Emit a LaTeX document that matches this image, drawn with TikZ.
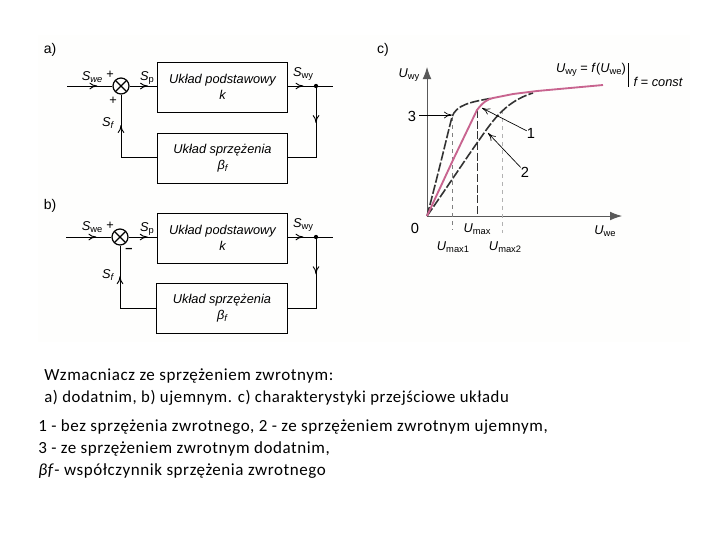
\documentclass[tikz,border=0pt]{standalone}
\usepackage{fontspec}
\setmainfont{Carlito}
\setsansfont{Liberation Sans}
\usetikzlibrary{arrows,arrows.meta,decorations.markings}
\definecolor{scanbg}{HTML}{FEFEFD}
\definecolor{curvepink}{HTML}{C8648F}
\newcommand{\figfont}{\fontsize{9.6pt}{12pt}\selectfont\sffamily}
\newcommand{\capfont}{\fontsize{12.75pt}{14pt}\selectfont\addfontfeatures{LetterSpace=3.4}}
\newcommand{\capfontb}{\fontsize{12.55pt}{14pt}\selectfont\addfontfeatures{LetterSpace=3.4}}
\newcommand{\sym}[2]{\textit{#1}{\fontsize{7pt}{8pt}\selectfont\raisebox{-0.35ex}{#2}}}

\begin{document}
\begin{tikzpicture}[
x=0.75pt,y=-0.75pt,
block/.style={draw,line width=0.7pt,minimum width=98pt,minimum height=37.5pt,inner sep=0pt,align=center,font=\figfont\itshape},
sum/.style={circle,draw,line width=0.9pt,minimum size=12pt,inner sep=0pt,path picture={
\draw[line width=0.9pt] (path picture bounding box.north west) -- (path picture bounding box.south east);
\draw[line width=0.9pt] (path picture bounding box.south west) -- (path picture bounding box.north east);}},
wire/.style={line width=0.7pt},
flow/.style={wire,postaction={decorate},decoration={markings,mark=at position #1 with {\arrow{To[length=6pt,width=5pt]}}}},
junction/.style={circle,fill,inner sep=0pt,minimum size=3.2pt},
lab/.style={font=\figfont,inner sep=0pt},
num/.style={font=\fontsize{11pt}{13pt}\selectfont\sffamily,inner sep=0pt},
head/.style={font=\fontsize{10.5pt}{12pt}\selectfont\sffamily,inner sep=0pt},
axis/.style={draw=black!65,line width=0.6pt,-{Latex[length=9pt,width=6.5pt]}},
curve/.style={line width=1.2pt,dash pattern=on 7pt off 1.6pt,black!80},
pointer/.style={line width=0.5pt,-{To[length=6pt,width=5pt]}},
captext/.style={font=\capfont,anchor=west,inner sep=0pt}
]

\useasboundingbox (0,0) rectangle (720,540);
\fill[scanbg] (38,35) rectangle (690,342);

% a)
\node[head](la) at (50,50) {a)};

\node[block](basea) at (222.5,87) {Układ podstawowy\\k};

\node[block](feeda) at (222.5,158) {Układ sprzężenia\\\sym{β}{f}};

\node[sum](suma) at (121,86) {};

\coordinate (ina) at (67,86);

\coordinate (outa) at (333,86);

\node[junction](joina) at (316,86) {};

\coordinate (cornera) at (316,157);

\coordinate (backa) at (121,157);

\draw[flow=0.67] (ina) -- (suma);

\draw[flow=0.68] (suma) -- (suma-|basea.west);

\draw[flow=0.6] (suma-|basea.east) -- (joina);

\draw[wire] (joina) -- (outa);

\draw[flow=0.36] (joina) -- (cornera) -- (cornera-|feeda.east);

\draw[flow=0.69] (backa-|feeda.west) -- (backa) -- (suma);

\node[lab](swea) at (92,77) {\sym{S}{\textit{we}}};

\node[lab](pa) at (110,75) {+};

\node[lab](spa) at (147,78) {\sym{S}{p}};

\node[lab](swya) at (303,74) {\sym{S}{wy}};

\node[lab](qa) at (113,101) {+};

\node[lab](sfa) at (108,123) {\sym{S}{\textit{f}}};

% b)
\node[head](lb) at (50,206) {b)};

\node[block](baseb) at (222.5,238) {Układ podstawowy\\k};

\node[block](feedb) at (222,308.5) {Układ sprzężenia\\\sym{β}{f}};

\node[sum](sumb) at (120,237) {};

\coordinate (inb) at (66,237);

\coordinate (outb) at (333,237);

\node[junction](joinb) at (316,237) {};

\coordinate (cornerb) at (316,308);

\coordinate (backb) at (120,308);

\draw[flow=0.67] (inb) -- (sumb);

\draw[flow=0.68] (sumb) -- (sumb-|baseb.west);

\draw[flow=0.6] (sumb-|baseb.east) -- (joinb);

\draw[wire] (joinb) -- (outb);

\draw[flow=0.36] (joinb) -- (cornerb) -- (cornerb-|feedb.east);

\draw[flow=0.69] (backb-|feedb.west) -- (backb) -- (sumb);

\node[lab](sweb) at (92,227) {\sym{S}{we}};

\node[lab](pb) at (110,226) {+};

\node[lab](spb) at (147,229) {\sym{S}{p}};

\node[lab](swyb) at (303,225) {\sym{S}{wy}};

\node[lab,font=\figfont\bfseries](qb) at (129,250) {–};

\node[lab](sfb) at (108,275) {\sym{S}{\textit{f}}};

% c)
\node[head](lc) at (383,50) {c)};

\coordinate (origin) at (427,216);

\coordinate (yend) at (427,67);

\coordinate (xend) at (622,216);

\draw[axis] (origin) -- (yend);

\draw[axis] (origin) -- (xend);

\coordinate (m1top) at (452,117);

\coordinate (m0top) at (477,110);

\coordinate (m2top) at (502,110);

\coordinate (m1bot) at (452,230);

\coordinate (m0bot) at (477,216);

\coordinate (m2bot) at (502,233);

\draw[black!50,line width=0.5pt,dashed] (m1top) -- (m1bot);

\draw[black!80,line width=0.7pt,dash pattern=on 6pt off 2pt] (m0top) -- (m0bot);

\draw[black!30,line width=0.5pt,dashed] (m2top) -- (m2bot);

\draw[curve] (origin) .. controls (440,167) and (449,128) .. (452,117) .. controls (456,105) and (470,102) .. (493,98);

\draw[curve] (origin) .. controls (450,183) and (465,160) .. (477,143) .. controls (490,125) and (503,102) .. (533,93);

\draw[curvepink,line width=1.4pt] (origin) -- (453,160) -- (477,110) .. controls (483,102) and (488,99) .. (493,98) -- (513,94) -- (537,91) -- (603,85);

\node[lab](uwy) at (409,75) {\sym{U}{wy}};

\node[num](zero) at (415,228) {0};

\node[lab](umax) at (477,229) {\sym{U}{max}};

\node[lab](umaxa) at (453,247) {\sym{U}{max1}};

\node[lab](umaxb) at (505,247) {\sym{U}{max2}};

\node[lab](uwe) at (605,231) {\sym{U}{we}};

\node[lab](formula) at (591,70) {\sym{U}{wy} = \textit{f}(\sym{U}{we})};

\coordinate (bartop) at (628,63);

\coordinate (barbot) at (628,87);

\draw[wire] (bartop) -- (barbot);

\node[lab,font=\figfont\itshape](cond) at (658,82) {f = const};

\node[num](tri) at (412,116) {3};

\node[num](one) at (531,133) {1};

\node[num](two) at (525,172) {2};

\coordinate (tip3) at (452,115);

\coordinate (tip1) at (482,108);

\coordinate (tip2) at (488,133);

\draw[pointer] (tri) ++(7,-1) -- (tip3);

\draw[pointer] (one) -- (tip1);

\draw[pointer] (two) -- (tip2);

% caption
\node[captext](cap1) at (44,376) {Wzmacniacz ze sprzężeniem zwrotnym:};

\node[captext,font=\capfontb](cap2) at (44,398) {a) dodatnim, b) ujemnym. c) charakterystyki przejściowe układu};

\node[captext](cap3) at (38,427) {1 - bez sprzężenia zwrotnego, 2 - ze sprzężeniem zwrotnym ujemnym,};

\node[captext](cap4) at (38,449) {3 - ze sprzężeniem zwrotnym dodatnim,};

\node[captext](cap5) at (38,471) {\textit{βf}- współczynnik sprzężenia zwrotnego};

\end{tikzpicture}
\end{document}
